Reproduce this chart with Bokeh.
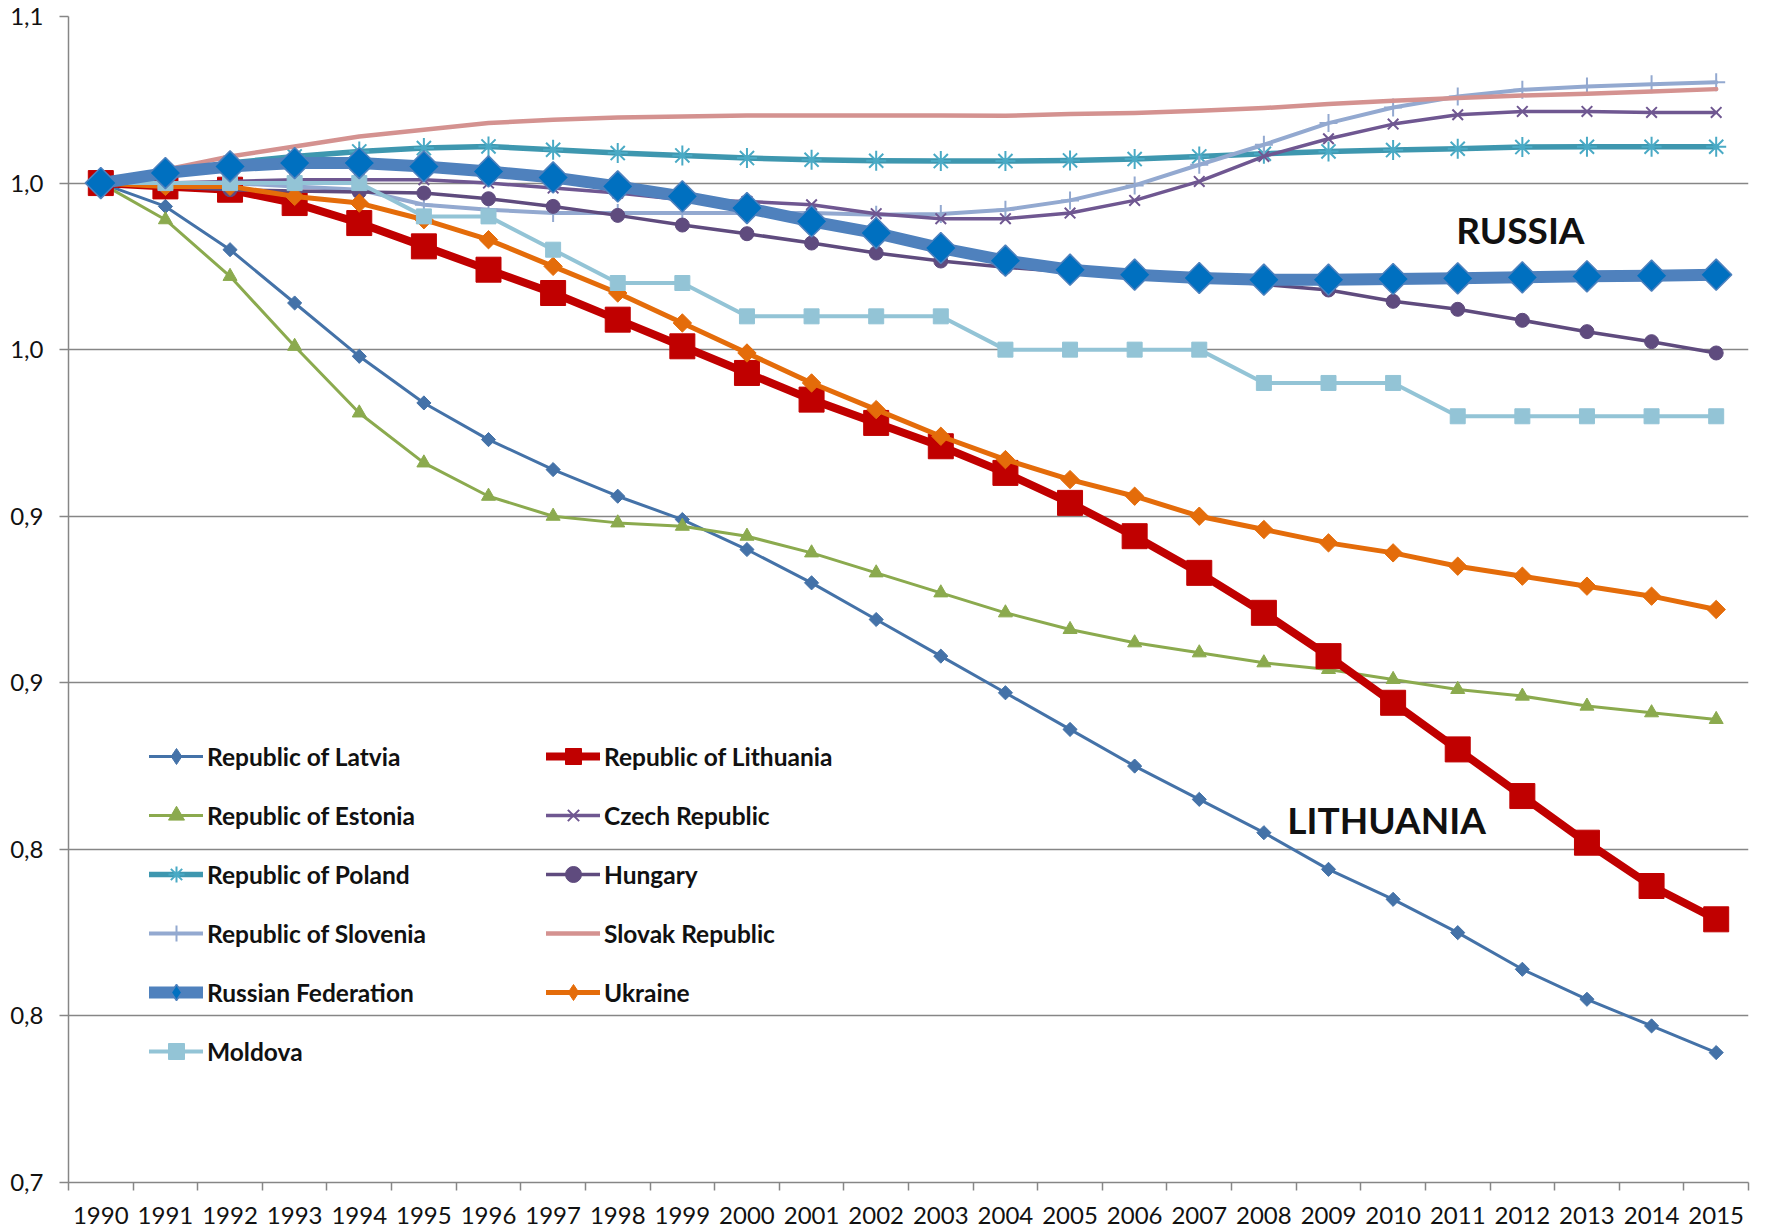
import numpy as np
from bokeh.plotting import figure
from bokeh.models import Range1d, FixedTicker, Legend, LegendItem, Label
from bokeh.embed import file_html
from bokeh.resources import INLINE

# ---------------- data ----------------
years = [1990, 1991, 1992, 1993, 1994, 1995, 1996, 1997, 1998, 1999, 2000, 2001, 2002,
         2003, 2004, 2005, 2006, 2007, 2008, 2009, 2010, 2011, 2012, 2013, 2014, 2015]
year_labels = [str(y) for y in years]

y_ticks = [0.70, 0.75, 0.80, 0.85, 0.90, 0.95, 1.00, 1.05]
y_tick_labels = ["0,7", "0,8", "0,8", "0,9", "0,9", "1,0", "1,0", "1,1"]

latvia = [1.0, 0.993, 0.980, 0.964, 0.948, 0.934, 0.923, 0.914, 0.906, 0.899, 0.890, 0.880, 0.869,
          0.858, 0.847, 0.836, 0.825, 0.815, 0.805, 0.794, 0.785, 0.775, 0.764, 0.755, 0.747, 0.739]
lithuania = [1.0, 0.999, 0.998, 0.994, 0.988, 0.981, 0.974, 0.967, 0.959, 0.951, 0.943, 0.935, 0.928,
             0.921, 0.913, 0.904, 0.894, 0.883, 0.871, 0.858, 0.844, 0.830, 0.816, 0.802, 0.789, 0.779]
estonia = [1.0, 0.989, 0.972, 0.951, 0.931, 0.916, 0.906, 0.900, 0.898, 0.897, 0.894, 0.889, 0.883,
           0.877, 0.871, 0.866, 0.862, 0.859, 0.856, 0.854, 0.851, 0.848, 0.846, 0.843, 0.841, 0.839]
czech = [1.0, 1.0, 1.0005, 1.001, 1.001, 1.001, 1.0, 0.9985, 0.997, 0.995, 0.9945, 0.9935, 0.9908,
         0.9893, 0.9893, 0.991, 0.9948, 1.0005, 1.008, 1.0133, 1.0177, 1.0205, 1.0215, 1.0215, 1.0212, 1.0212]
poland = [1.0, 1.003, 1.006, 1.008, 1.0095, 1.0105, 1.011, 1.010, 1.009, 1.0083, 1.0075, 1.007, 1.0067,
          1.0066, 1.0066, 1.0068, 1.0072, 1.008, 1.0088, 1.0095, 1.0099, 1.0103, 1.0108, 1.0109, 1.0109, 1.0109]
hungary = [1.0, 0.999, 0.998, 0.9976, 0.9973, 0.997, 0.9953, 0.993, 0.9903, 0.9874, 0.9848, 0.982, 0.979,
           0.9766, 0.9747, 0.9733, 0.972, 0.9709, 0.9696, 0.9679, 0.9645, 0.9621, 0.9588, 0.9554, 0.9524, 0.949]
slovenia = [1.0, 1.0, 1.0, 0.999, 0.998, 0.9935, 0.992, 0.991, 0.991, 0.991, 0.991, 0.991, 0.9905,
            0.9907, 0.992, 0.9948, 0.9993, 1.0055, 1.0115, 1.018, 1.0227, 1.026, 1.028, 1.029, 1.0297, 1.0303]
slovak = [1.0, 1.004, 1.008, 1.011, 1.014, 1.016, 1.018, 1.019, 1.0197, 1.020, 1.0203, 1.0203, 1.0203,
          1.0203, 1.0202, 1.0207, 1.021, 1.0217, 1.0225, 1.0237, 1.0247, 1.0255, 1.0263, 1.0268, 1.0275, 1.0282]
russia = [1.0, 1.003, 1.005, 1.006, 1.006, 1.005, 1.0035, 1.0017, 0.999, 0.996, 0.9925, 0.9885, 0.985,
          0.9805, 0.9767, 0.974, 0.9725, 0.9715, 0.971, 0.971, 0.9712, 0.9714, 0.9717, 0.972, 0.9722, 0.9725]
ukraine = [1.0, 0.999, 0.999, 0.996, 0.994, 0.989, 0.983, 0.975, 0.967, 0.958, 0.949, 0.940, 0.932,
           0.924, 0.917, 0.911, 0.906, 0.900, 0.896, 0.892, 0.889, 0.885, 0.882, 0.879, 0.876, 0.872]
moldova = [1.00, 1.00, 1.00, 1.00, 1.00, 0.99, 0.99, 0.98, 0.97, 0.97, 0.96, 0.96, 0.96,
           0.96, 0.95, 0.95, 0.95, 0.95, 0.94, 0.94, 0.94, 0.93, 0.93, 0.93, 0.93, 0.93]

# ---------------- figure ----------------
GRID = "#868686"
FONT = "Lato"

p = figure(width=1760, height=1229, output_backend="svg", toolbar_location=None,
           x_range=Range1d(1989.5, 2015.5), y_range=Range1d(0.70, 1.05),
           min_border_left=68, min_border_right=12, min_border_top=16, min_border_bottom=47)
p.outline_line_color = None
p.background_fill_color = "white"
p.border_fill_color = "white"

# x axis
p.xaxis.ticker = FixedTicker(ticks=years, minor_ticks=[y - 0.5 for y in years] + [years[-1] + 0.5])
p.xaxis.major_label_overrides = {y: lab for y, lab in zip(years, year_labels)}
p.xaxis.major_tick_line_color = None
p.xaxis.major_tick_out = 0
p.xaxis.major_tick_in = 0
p.xaxis.minor_tick_line_color = GRID
p.xaxis.minor_tick_line_width = 1.5
p.xaxis.minor_tick_out = 8
p.xaxis.minor_tick_in = 0
p.xaxis.axis_line_color = GRID
p.xaxis.axis_line_width = 1.5
p.xaxis.major_label_standoff = 16
p.xaxis.major_label_text_font = FONT
p.xaxis.major_label_text_font_size = "24px"
p.xaxis.major_label_text_color = "#111111"

# y axis
p.yaxis.ticker = FixedTicker(ticks=y_ticks)
p.yaxis.major_label_overrides = {t: lab for t, lab in zip(y_ticks, y_tick_labels)}
p.yaxis.minor_tick_line_color = None
p.yaxis.major_tick_line_color = GRID
p.yaxis.major_tick_line_width = 1.5
p.yaxis.major_tick_out = 9
p.yaxis.major_tick_in = 0
p.yaxis.axis_line_color = GRID
p.yaxis.axis_line_width = 1.5
p.yaxis.major_label_standoff = 16
p.yaxis.major_label_text_font = FONT
p.yaxis.major_label_text_font_size = "24px"
p.yaxis.major_label_text_color = "#111111"

p.xgrid.visible = False
p.ygrid.grid_line_color = GRID
p.ygrid.grid_line_width = 1.5

DIAMOND_ANGLE = np.pi / 4

series = {
    "Republic of Latvia": dict(data=latvia, color="#4472A8", lw=3, marker="square", angle=DIAMOND_ANGLE,
                               size=10, fill="#4472A8", mline="#4472A8", mlw=1),
    "Republic of Estonia": dict(data=estonia, color="#8BAA4E", lw=3, marker="triangle", angle=0,
                                size=14, fill="#8BAA4E", mline="#8BAA4E", mlw=1),
    "Republic of Poland": dict(data=poland, color="#3E97AF", lw=5.5, marker="asterisk", angle=0,
                               size=20, fill=None, mline="#4AAAC5", mlw=2),
    "Republic of Slovenia": dict(data=slovenia, color="#93A9D0", lw=4, marker="cross", angle=0,
                                 size=18, fill=None, mline="#93A9D0", mlw=2),
    "Republic of Lithuania": dict(data=lithuania, color="#C00000", lw=8, marker="square", angle=0,
                                  size=25, fill="#C00000", mline="#C00000", mlw=1),
    "Czech Republic": dict(data=czech, color="#6F5791", lw=3.5, marker="x", angle=0,
                           size=15, fill=None, mline="#6F5791", mlw=2),
    "Hungary": dict(data=hungary, color="#5F4B7E", lw=3.5, marker="circle", angle=0,
                    size=14, fill="#5F4B7E", mline="#5F4B7E", mlw=1),
    "Slovak Republic": dict(data=slovak, color="#D49290", lw=4.5, marker=None, angle=0,
                            size=0, fill=None, mline=None, mlw=0),
    "Ukraine": dict(data=ukraine, color="#E46C0A", lw=5, marker="square", angle=DIAMOND_ANGLE,
                    size=13, fill="#E46C0A", mline="#E46C0A", mlw=1),
    "Moldova": dict(data=moldova, color="#93C4D6", lw=4, marker="square", angle=0,
                    size=15, fill="#93C4D6", mline="#93C4D6", mlw=1),
    "Russian Federation": dict(data=russia, color="#4F81BD", lw=12, marker="square", angle=DIAMOND_ANGLE,
                               size=22, fill="#0070C0", mline="#4F81BD", mlw=1.5),
}

renderers = {}
for name, s in series.items():
    line_r = p.line(years, s["data"], line_color=s["color"], line_width=s["lw"], line_join="round",
                    line_cap="round")
    rs = [line_r]
    if s["marker"] is not None:
        sc = p.scatter(years, s["data"], marker=s["marker"], size=s["size"], angle=s["angle"],
                       fill_color=s["fill"], line_color=s["mline"], line_width=s["mlw"])
        if s["angle"]:
            # legend-only swatch: an upright diamond (a single point with no y, so nothing is drawn)
            sc = p.scatter([years[0]], [float("nan")], marker="diamond", size=s["size"],
                           fill_color=s["fill"], line_color=s["mline"], line_width=s["mlw"])
        rs.append(sc)
    renderers[name] = rs

col1 = ["Republic of Latvia", "Republic of Estonia", "Republic of Poland",
        "Republic of Slovenia", "Russian Federation", "Moldova"]
col2 = ["Republic of Lithuania", "Czech Republic", "Hungary", "Slovak Republic", "Ukraine"]


def make_legend(names, loc):
    leg = Legend(items=[LegendItem(label=n, renderers=renderers[n]) for n in names],
                 location=loc, orientation="vertical", padding=0, margin=0, spacing=19,
                 glyph_width=54, glyph_height=40, label_height=40, label_standoff=4,
                 label_text_font=FONT, label_text_font_style="bold", label_text_font_size="24.5px",
                 label_text_color="#111111", border_line_color=None, background_fill_alpha=0)
    return leg


p.add_layout(make_legend(col1, (81, 111)))
p.add_layout(make_legend(col2, (478, 170)))

for txt, x, y in [("RUSSIA", 2011.97, 0.986), ("LITHUANIA", 2009.9, 0.809)]:
    p.add_layout(Label(x=x, y=y, text=txt, text_align="center", text_baseline="middle",
                       text_font=FONT, text_font_style="bold", text_font_size="37px",
                       text_color="#111111"))

open("out.html", "w").write(file_html(p, INLINE))
